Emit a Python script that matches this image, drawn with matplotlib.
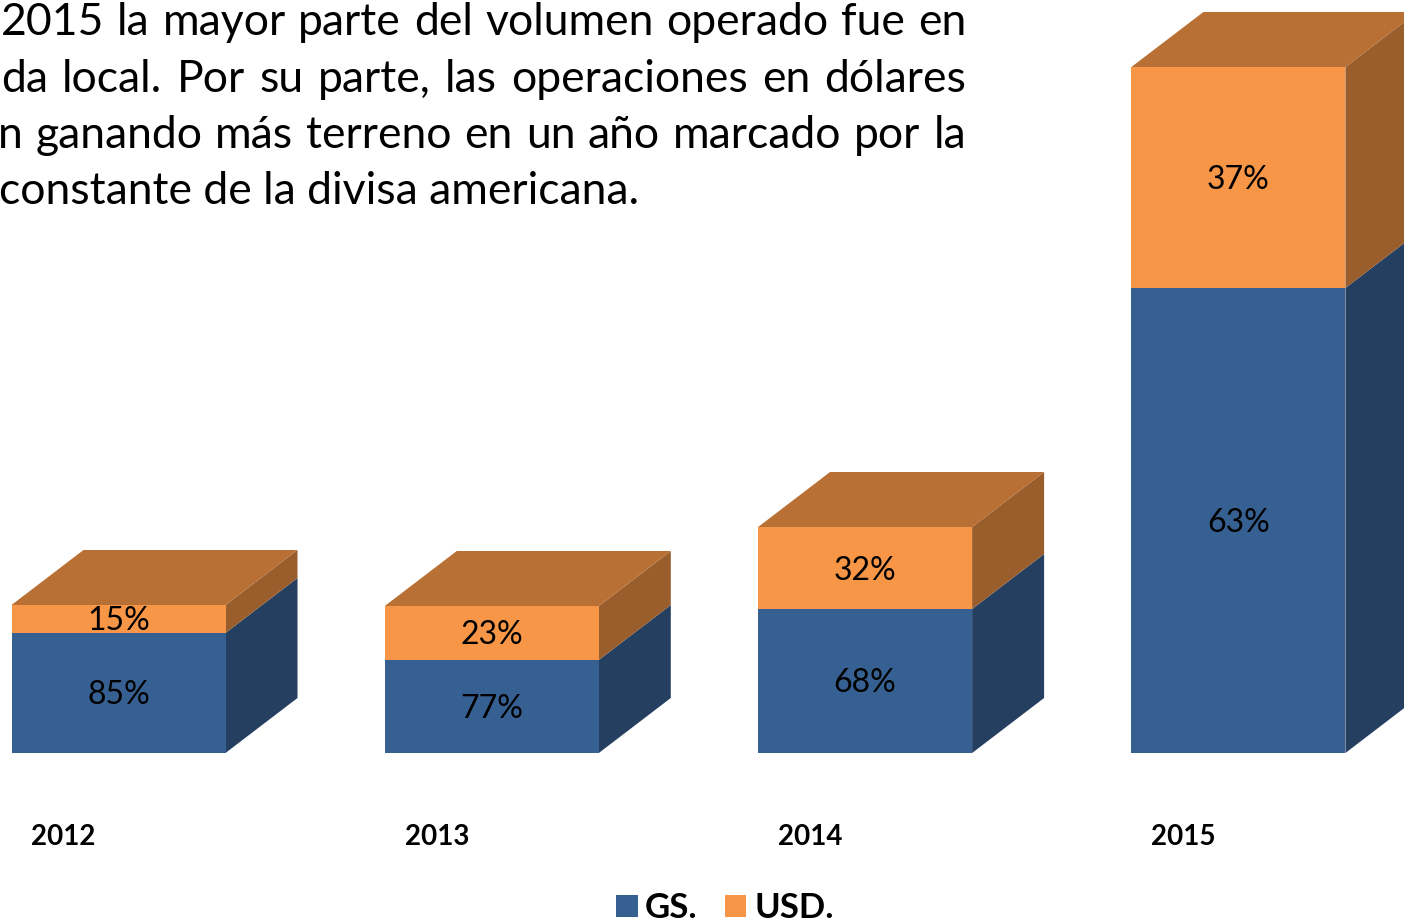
import numpy as np
import matplotlib.pyplot as plt
from matplotlib.patches import Polygon

# data (bar heights are relative volumes)
years = ['2012', '2013', '2014', '2015']
gs_vol = [120, 93, 144, 465]
usd_vol = [28, 54, 82, 221]
gs_pct = [85, 77, 68, 63]
usd_pct = [15, 23, 32, 37]

text_lines = [
    '2015 la mayor parte del volumen operado fue en',
    'da local. Por su parte, las operaciones en dólares',
    'n ganando más terreno en un año marcado por la',
    'constante de la divisa americana.',
]

blue = '#376092'
blue_side = '#243F60'
orange = '#F79646'
orange_top = '#B97034'
orange_side = '#9A5E2C'

plt.rcParams['font.family'] = ['Lato', 'DejaVu Sans']

W, H = 1404, 918
fig = plt.figure(figsize=(W / 100, H / 100), dpi=100)
ax = fig.add_axes([0, 0, 1, 1])

# one category step = 373 px, one value unit = 1 px
step = 373.3
x0 = 118.5
ax.set_xlim(-x0 / step, (W - x0) / step)
ax.set_ylim(753 - H, 753)
ax.axis('off')

x = np.arange(len(years))
w = 214 / step
dx, dy = 72 / step, 55

ax.bar(x, gs_vol, w, color=blue, label='GS.', zorder=2)
ax.bar(x, usd_vol, w, bottom=gs_vol, color=orange, label='USD.', zorder=2)

pct_size = 23
half_digit = 0.36 * pct_size * 100 / 72  # half of digit height in px

for i in x:
    g, u = gs_vol[i], usd_vol[i]
    l, r = i - w / 2, i + w / 2
    t = g + u
    ax.add_patch(Polygon([(r, 0), (r + dx, dy), (r + dx, g + dy), (r, g)],
                         closed=True, color=blue_side, lw=0, zorder=1))
    ax.add_patch(Polygon([(r, g), (r + dx, g + dy), (r + dx, t + dy), (r, t)],
                         closed=True, color=orange_side, lw=0, zorder=1))
    ax.add_patch(Polygon([(l, t), (l + dx, t + dy), (r + dx, t + dy), (r, t)],
                         closed=True, color=orange_top, lw=0, zorder=1))
    ax.text(i, g / 2 - half_digit, f'{gs_pct[i]}%', ha='center', va='baseline',
            fontsize=pct_size, zorder=3)
    ax.text(i, g + u / 2 - half_digit, f'{usd_pct[i]}%', ha='center', va='baseline',
            fontsize=pct_size, zorder=3)
    ax.text(i - 55 / step, -84, years[i], ha='center', va='center',
            fontsize=20, fontweight='bold', zorder=3)

# paragraph above the chart (cropped in the original), justified lines
renderer = fig.canvas.get_renderer()
baselines = [35, 92, 148, 204]
starts = [1, 1, -2, -1]
right_edge = 966
for k, line in enumerate(text_lines):
    yk = 1 - baselines[k] / H
    if k == len(text_lines) - 1:
        fig.text(starts[k] / W, yk, line, ha='left', va='baseline', fontsize=32)
        continue
    words = line.split(' ')
    objs = [fig.text(0, yk, wd, ha='left', va='baseline', fontsize=32) for wd in words]
    widths = [o.get_window_extent(renderer).width for o in objs]
    gap = (right_edge - starts[k] - sum(widths)) / (len(words) - 1)
    pos = starts[k]
    for o, wd in zip(objs, widths):
        o.set_x(pos / W)
        pos += wd + gap

ax.legend(loc='lower left', bbox_to_anchor=(616 / W, -6 / H), bbox_transform=fig.transFigure,
          ncol=2, frameon=False, borderpad=0, borderaxespad=0,
          handlelength=0.62, handleheight=0.62, handletextpad=0.22, columnspacing=0.78,
          prop={'size': 25, 'weight': 'bold'})

fig.savefig('out.png', dpi=100)
